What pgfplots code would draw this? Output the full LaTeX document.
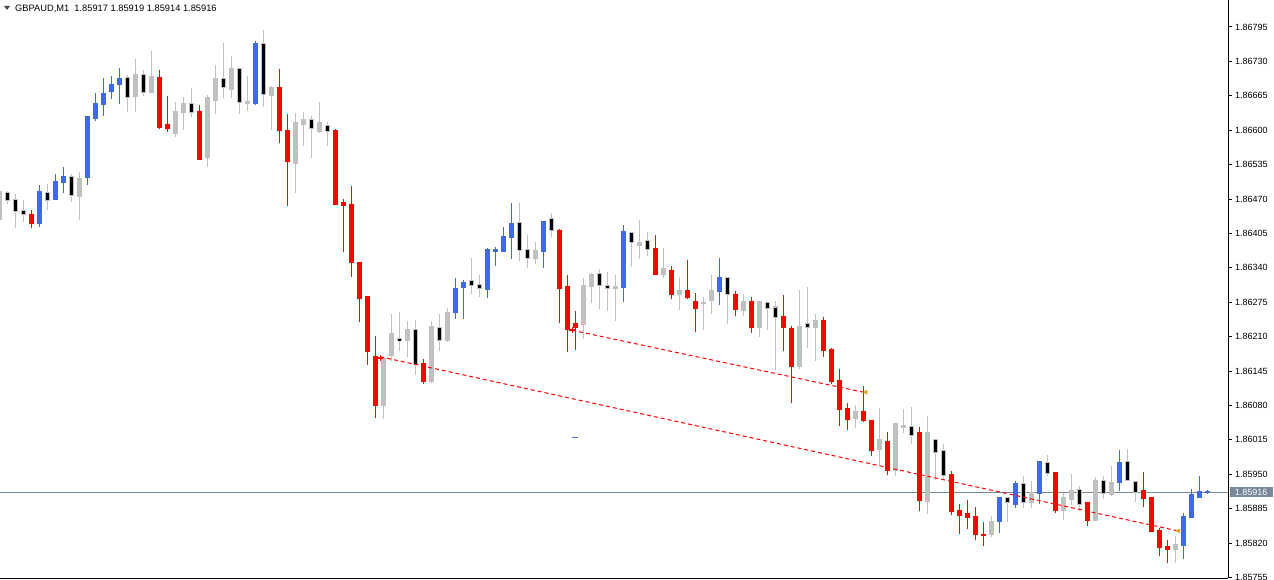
\documentclass[border=0pt]{standalone}
\usepackage{fontspec}
\setmainfont{Liberation Sans}
\usepackage{pgfplots}
\pgfplotsset{compat=1.18}
\usepackage{pgfplotstable}

\definecolor{mtblue}{HTML}{4169E1}
\definecolor{mtred}{HTML}{FF0000}
\definecolor{mtgray}{HTML}{C0C0C0}
\definecolor{bidline}{HTML}{778899}
\definecolor{mtorange}{HTML}{DAA520}

% k = bar index, t = colour class (1 blue, 2 red, 3 grey, 4 black)
\pgfplotstableread{
k t o h l c
-1 3 1.86432 1.86491 1.86427 1.86485
0 4 1.86483 1.86485 1.86462 1.86468
1 4 1.86470 1.86479 1.86417 1.86447
2 4 1.86449 1.86468 1.86428 1.86440
3 2 1.86440 1.86449 1.86417 1.86423
4 1 1.86423 1.86495 1.86419 1.86485
5 4 1.86483 1.86498 1.86451 1.86468
6 1 1.86470 1.86517 1.86470 1.86504
7 1 1.86502 1.86529 1.86483 1.86512
8 4 1.86512 1.86517 1.86466 1.86476
9 3 1.86474 1.86521 1.86432 1.86508
10 1 1.86510 1.86625 1.86498 1.86625
11 1 1.86623 1.86670 1.86619 1.86650
12 1 1.86648 1.86697 1.86627 1.86670
13 1 1.86674 1.86702 1.86659 1.86687
14 1 1.86687 1.86717 1.86650 1.86697
15 4 1.86699 1.86704 1.86636 1.86661
16 3 1.86663 1.86734 1.86636 1.86706
17 4 1.86706 1.86712 1.86665 1.86672
18 3 1.86672 1.86748 1.86672 1.86702
19 2 1.86700 1.86712 1.86604 1.86606
20 2 1.86610 1.86663 1.86597 1.86604
21 3 1.86593 1.86653 1.86589 1.86636
22 3 1.86634 1.86661 1.86602 1.86651
23 4 1.86651 1.86678 1.86625 1.86634
24 2 1.86636 1.86646 1.86544 1.86544
25 3 1.86548 1.86666 1.86532 1.86661
26 3 1.86657 1.86723 1.86632 1.86697
27 4 1.86697 1.86763 1.86661 1.86680
28 3 1.86676 1.86740 1.86661 1.86716
29 4 1.86716 1.86717 1.86632 1.86653
30 3 1.86651 1.86702 1.86638 1.86655
31 1 1.86650 1.86767 1.86648 1.86763
32 4 1.86763 1.86789 1.86644 1.86668
33 3 1.86666 1.86682 1.86602 1.86680
34 2 1.86680 1.86714 1.86576 1.86600
35 2 1.86600 1.86629 1.86457 1.86540
36 3 1.86538 1.86631 1.86483 1.86614
37 3 1.86610 1.86634 1.86572 1.86621
38 4 1.86621 1.86625 1.86549 1.86604
39 3 1.86598 1.86653 1.86595 1.86614
40 4 1.86608 1.86615 1.86572 1.86598
41 2 1.86600 1.86602 1.86459 1.86460
42 2 1.86464 1.86470 1.86370 1.86457
43 2 1.86460 1.86493 1.86324 1.86351
44 2 1.86351 1.86351 1.86238 1.86283
45 2 1.86285 1.86285 1.86158 1.86181
46 2 1.86173 1.86211 1.86058 1.86079
47 3 1.86079 1.86168 1.86056 1.86168
48 3 1.86175 1.86251 1.86164 1.86215
49 4 1.86207 1.86255 1.86183 1.86202
50 3 1.86202 1.86238 1.86173 1.86224
51 4 1.86224 1.86240 1.86139 1.86158
52 2 1.86160 1.86166 1.86122 1.86126
53 3 1.86126 1.86238 1.86124 1.86230
54 4 1.86228 1.86251 1.86183 1.86202
55 3 1.86202 1.86264 1.86200 1.86255
56 1 1.86255 1.86319 1.86245 1.86300
57 1 1.86302 1.86317 1.86245 1.86313
58 4 1.86317 1.86357 1.86292 1.86306
59 4 1.86308 1.86326 1.86285 1.86300
60 1 1.86300 1.86376 1.86283 1.86374
61 1 1.86370 1.86379 1.86345 1.86374
62 1 1.86370 1.86417 1.86370 1.86400
63 1 1.86398 1.86462 1.86357 1.86423
64 4 1.86425 1.86462 1.86353 1.86372
65 4 1.86374 1.86402 1.86340 1.86358
66 3 1.86358 1.86387 1.86349 1.86372
67 1 1.86370 1.86428 1.86340 1.86428
68 4 1.86434 1.86442 1.86400 1.86410
69 2 1.86411 1.86413 1.86236 1.86300
70 2 1.86304 1.86326 1.86181 1.86224
71 2 1.86234 1.86257 1.86185 1.86228
72 3 1.86232 1.86319 1.86207 1.86306
73 3 1.86304 1.86330 1.86274 1.86328
74 4 1.86330 1.86336 1.86264 1.86306
75 4 1.86306 1.86332 1.86260 1.86300
76 3 1.86300 1.86326 1.86240 1.86304
77 1 1.86302 1.86419 1.86277 1.86408
78 4 1.86406 1.86406 1.86343 1.86387
79 3 1.86383 1.86430 1.86358 1.86387
80 4 1.86391 1.86406 1.86364 1.86374
81 2 1.86376 1.86402 1.86328 1.86328
82 3 1.86328 1.86377 1.86321 1.86338
83 2 1.86334 1.86342 1.86283 1.86290
84 3 1.86290 1.86321 1.86262 1.86298
85 2 1.86298 1.86353 1.86283 1.86283
86 2 1.86277 1.86292 1.86219 1.86264
87 3 1.86272 1.86283 1.86224 1.86275
88 3 1.86279 1.86326 1.86253 1.86298
89 1 1.86296 1.86357 1.86270 1.86321
90 4 1.86321 1.86321 1.86234 1.86289
91 2 1.86290 1.86296 1.86249 1.86262
92 3 1.86260 1.86289 1.86249 1.86277
93 2 1.86277 1.86283 1.86217 1.86228
94 3 1.86228 1.86277 1.86211 1.86277
95 4 1.86274 1.86274 1.86224 1.86264
96 4 1.86266 1.86277 1.86147 1.86247
97 2 1.86249 1.86287 1.86183 1.86228
98 2 1.86226 1.86230 1.86086 1.86154
99 3 1.86154 1.86298 1.86149 1.86230
100 4 1.86234 1.86302 1.86190 1.86228
101 3 1.86228 1.86251 1.86164 1.86241
102 2 1.86241 1.86247 1.86173 1.86183
103 2 1.86185 1.86187 1.86122 1.86126
104 2 1.86128 1.86147 1.86043 1.86073
105 2 1.86075 1.86083 1.86035 1.86054
106 3 1.86056 1.86079 1.86039 1.86068
107 2 1.86068 1.86115 1.86049 1.86052
108 2 1.86052 1.86052 1.85986 1.85994
109 3 1.85996 1.86075 1.85969 1.86015
110 2 1.86011 1.86028 1.85950 1.85958
111 3 1.85958 1.86045 1.85948 1.86045
112 3 1.86039 1.86073 1.86028 1.86043
113 4 1.86041 1.86077 1.86009 1.86024
114 2 1.86028 1.86039 1.85882 1.85901
115 3 1.85899 1.86060 1.85875 1.86028
116 4 1.86016 1.86016 1.85941 1.85992
117 4 1.85994 1.86007 1.85941 1.85948
118 2 1.85950 1.85956 1.85873 1.85879
119 2 1.85881 1.85892 1.85839 1.85873
120 2 1.85875 1.85901 1.85847 1.85869
121 2 1.85871 1.85888 1.85826 1.85837
122 2 1.85837 1.85858 1.85816 1.85835
123 3 1.85837 1.85871 1.85833 1.85860
124 1 1.85860 1.85907 1.85839 1.85907
125 4 1.85907 1.85907 1.85860 1.85896
126 1 1.85892 1.85937 1.85888 1.85933
127 4 1.85933 1.85945 1.85888 1.85897
128 3 1.85897 1.85937 1.85888 1.85916
129 1 1.85914 1.85975 1.85894 1.85975
130 4 1.85973 1.85986 1.85948 1.85952
131 2 1.85954 1.85954 1.85877 1.85882
132 3 1.85881 1.85913 1.85865 1.85907
133 3 1.85903 1.85950 1.85892 1.85920
134 4 1.85922 1.85926 1.85882 1.85892
135 2 1.85896 1.85896 1.85854 1.85862
136 3 1.85862 1.85943 1.85862 1.85939
137 4 1.85939 1.85945 1.85905 1.85914
138 3 1.85911 1.85965 1.85909 1.85935
139 1 1.85935 1.85994 1.85920 1.85973
140 4 1.85975 1.85996 1.85939 1.85939
141 4 1.85937 1.85937 1.85899 1.85916
142 2 1.85920 1.85954 1.85890 1.85905
143 2 1.85907 1.85907 1.85841 1.85841
144 2 1.85843 1.85848 1.85797 1.85812
145 2 1.85814 1.85824 1.85784 1.85807
146 3 1.85807 1.85833 1.85784 1.85818
147 1 1.85816 1.85875 1.85790 1.85871
148 1 1.85869 1.85922 1.85869 1.85911
149 1 1.85907 1.85945 1.85907 1.85918
150 1 1.85917 1.85919 1.85914 1.85916
}\candles

% wick of every bar of one colour class
\newcommand\wicks[2]{%
  \addplot[draw=none, mark=none, forget plot,
    restrict expr to domain={\thisrow{t}}{#1},
    error bars/.cd, y dir=both, y explicit, error mark=none,
    error bar style={line width=1bp, draw=#2, solid}]
    table[x=k, y expr={0.5*(\thisrow{h}+\thisrow{l})},
      y error expr={0.5*(\thisrow{h}-\thisrow{l})+0.0000095}] {\candles};}
% body between open and close
\newcommand\bodies[4]{%
  \addplot[draw=none, mark=none, forget plot,
    restrict expr to domain={\thisrow{t}}{#1},
    error bars/.cd, y dir=both, y explicit, error mark=none,
    error bar style={line width=#3, draw=#2, solid}]
    table[x=k, y expr={0.5*(\thisrow{o}+\thisrow{c})},
      y error expr={max(0.5*abs(\thisrow{o}-\thisrow{c})+#4,0.000001)}] {\candles};}

\begin{document}
\begin{tikzpicture}
\useasboundingbox (0,0) rectangle (1274bp,580bp);
\begin{axis}[
  at={(0bp,2bp)}, anchor=south west,
  scale only axis, width=1228bp, height=578bp,
  xmin=-0.9375, xmax=152.5625, ymin=1.85754, ymax=1.86846,
  axis x line*=bottom, axis y line*=right,
  axis line style={black, line width=1bp},
  xtick=\empty,
  ytick={1.85755,1.85820,1.85885,1.85950,1.86015,1.86080,1.86145,1.86210,1.86275,1.86340,1.86405,1.86470,1.86535,1.86600,1.86665,1.86730,1.86795},
  yticklabels={1.85755,1.85820,1.85885,1.85950,1.86015,1.86080,1.86145,1.86210,1.86275,1.86340,1.86405,1.86470,1.86535,1.86600,1.86665,1.86730,1.86795},
  tick align=outside, major tick length=4bp,
  tick style={black, line width=1bp},
  yticklabel style={font=\fontsize{9bp}{10bp}\selectfont, anchor=west, inner sep=0pt, xshift=3bp},
]
% bid line
\addplot[bidline, line width=1bp, forget plot] coordinates {(-1,1.85916) (153,1.85916)};

\wicks{2.5:4.5}{mtgray}
\wicks{0.5:1.5}{mtblue}
\wicks{1.5:2.5}{mtred}
\bodies{2.5:3.5}{mtgray}{5bp}{0.0000095}
\bodies{3.5:4.5}{mtgray}{5bp}{0.0000095}
\bodies{3.5:4.5}{black}{3bp}{-0.0000095}
\bodies{0.5:1.5}{mtblue}{5bp}{0.0000095}
\bodies{1.5:2.5}{mtred}{5bp}{0.0000095}

% trend lines
\addplot[mtred, line width=1bp, dash pattern=on 4bp off 3bp] coordinates {(46.6,1.86172) (146.3,1.85843)};
\addplot[mtred, line width=1bp, dash pattern=on 4bp off 3bp] coordinates {(70.6,1.86222) (107.0,1.86105)};
\addplot[only marks, mark=+, mark size=3bp, mtred, line width=1.6bp] coordinates {(46.6,1.86170) (70.6,1.86222)};
\addplot[only marks, mark=triangle*, mark size=2.5bp, mtorange, mark options={rotate=90}] coordinates {(107.3,1.86105) (146.4,1.85843)};
\addplot[mtblue, line width=1.2bp] coordinates {(70.5,1.86020) (71.3,1.86020)};

\coordinate (bid) at (axis cs:152.5625,1.85916);
\end{axis}
\node[anchor=west, fill=bidline, text=white, inner xsep=0pt, inner ysep=2bp,
  minimum width=43bp, font=\fontsize{9bp}{10bp}\selectfont] at ([xshift=1.5bp]bid) {1.85916};
\fill[black!70] (4bp,574bp) -- (10bp,574bp) -- (7bp,570bp) -- cycle;
\node[anchor=west, inner sep=0pt, font=\fontsize{9.3bp}{10bp}\selectfont] at (15bp,571bp)
  {GBPAUD,M1\ \ 1.85917 1.85919 1.85914 1.85916};
\end{tikzpicture}
\end{document}
